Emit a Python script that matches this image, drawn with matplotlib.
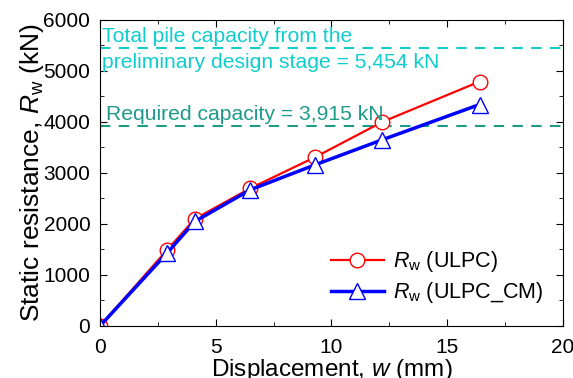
import matplotlib
matplotlib.use("Agg")
import matplotlib.pyplot as plt
from matplotlib.ticker import MultipleLocator

plt.rcParams['font.family'] = ['Liberation Sans', 'DejaVu Sans']
plt.rcParams['mathtext.fontset'] = 'custom'
plt.rcParams['mathtext.rm'] = 'Liberation Sans'
plt.rcParams['mathtext.it'] = 'Liberation Sans:italic'

# data
disp = [0, 2.9, 4.1, 6.5, 9.3, 12.2, 16.4]
r_ulpc = [0, 1490, 2100, 2700, 3310, 4000, 4790]
r_ulpc_cm = [0, 1430, 2050, 2670, 3160, 3650, 4340]
total_capacity = 5454
required_capacity = 3915

cyan = '#11CCCC'
teal = '#1E9A8A'

fig = plt.figure(figsize=(5.73, 3.78), dpi=100)
ax = fig.add_axes([0.1745, 0.1376, 0.808, 0.81])

ax.axhline(total_capacity, color=cyan, linestyle=(0, (5, 4)), linewidth=1.5)
ax.axhline(required_capacity, color=teal, linestyle=(0, (5, 4)), linewidth=1.5)

ax.plot(disp, r_ulpc, color='red', linewidth=1.6, marker='o', markersize=10.5,
        markerfacecolor='white', markeredgecolor='red', markeredgewidth=1.0,
        label=r'$R_\mathrm{w}$ (ULPC)')
ax.plot(disp, r_ulpc_cm, color='blue', linewidth=2.5, marker='^', markersize=12,
        markerfacecolor='white', markeredgecolor='blue', markeredgewidth=1.0,
        label=r'$R_\mathrm{w}$ (ULPC_CM)')

ax.text(0.08, 5570, 'Total pile capacity from the', color=cyan,
        fontsize=15.2, va='baseline', ha='left')
ax.text(0.08, 5060, 'preliminary design stage = 5,454 kN', color=cyan,
        fontsize=15.2, va='baseline', ha='left')
ax.text(0.25, 4040, 'Required capacity = 3,915 kN', color=teal,
        fontsize=15.2, va='baseline', ha='left')

ax.set_xlim(0, 20)
ax.set_ylim(0, 6000)
ax.xaxis.set_major_locator(MultipleLocator(5))
ax.xaxis.set_minor_locator(MultipleLocator(2.5))
ax.yaxis.set_major_locator(MultipleLocator(1000))
ax.yaxis.set_minor_locator(MultipleLocator(500))
ax.tick_params(which='both', direction='in', top=True, right=True, labelsize=15)
ax.tick_params(axis='x', which='both', pad=9)
ax.tick_params(axis='y', which='both', pad=7)
ax.tick_params(which='major', length=5)
ax.tick_params(which='minor', length=3)

ax.set_xlabel(r'Displacement, $w$ (mm)', fontsize=17.5, labelpad=0)
ax.set_ylabel(r'Static resistance, $R_\mathrm{w}$ (kN)', fontsize=19, labelpad=-2)

ax.legend(loc='lower right', bbox_to_anchor=(1.0, 0.005), frameon=False, fontsize=15.5,
          handlelength=2.5, handletextpad=0.4, labelspacing=0.28)

fig.savefig('out.png', dpi=100)
